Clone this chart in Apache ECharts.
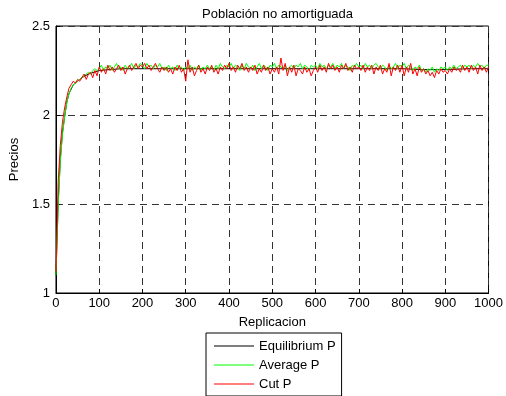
<!DOCTYPE html>
<html>
<head>
<meta charset="utf-8">
<script src="https://cdn.jsdelivr.net/npm/echarts@6/dist/echarts.min.js"></script>
<style>
  html, body { margin: 0; padding: 0; background: #fff; }
  #main { width: 506px; height: 396px; }
</style>
</head>
<body>
<div id="main"></div>
<script>
// cut / average sampled every 5 replications
const step = 5;

const cutP = [
  1.12, 1.62, 1.83, 1.96, 2.04, 2.10, 2.15, 2.17, 2.19, 2.18,
  2.20, 2.19, 2.21, 2.23, 2.20, 2.23, 2.24, 2.21, 2.25, 2.22,
  2.27, 2.24, 2.26, 2.23, 2.28, 2.25, 2.27, 2.24, 2.26, 2.28,
  2.25, 2.27, 2.23, 2.26, 2.28, 2.25, 2.27, 2.29, 2.26, 2.28,
  2.27, 2.29, 2.26, 2.28, 2.25, 2.27, 2.29, 2.26, 2.24, 2.27,
  2.25, 2.27, 2.24, 2.26, 2.23, 2.27, 2.25, 2.28, 2.24, 2.26,
  2.19, 2.31, 2.24, 2.27, 2.22, 2.25, 2.28, 2.24, 2.26, 2.23,
  2.27, 2.25, 2.28, 2.24, 2.26, 2.23, 2.27, 2.25, 2.28, 2.26,
  2.29, 2.25, 2.27, 2.24, 2.28, 2.26, 2.29, 2.25, 2.27, 2.24,
  2.27, 2.25, 2.28, 2.23, 2.26, 2.24, 2.28, 2.25, 2.27, 2.23,
  2.26, 2.24, 2.27, 2.23, 2.32, 2.25, 2.29, 2.22, 2.27, 2.24,
  2.28, 2.22, 2.26, 2.25, 2.23, 2.27, 2.24, 2.26, 2.22, 2.25,
  2.27, 2.24, 2.28, 2.25, 2.27, 2.24, 2.29, 2.26, 2.28, 2.25,
  2.27, 2.24, 2.28, 2.26, 2.29, 2.25, 2.27, 2.24, 2.28, 2.26,
  2.27, 2.25, 2.28, 2.24, 2.27, 2.25, 2.28, 2.23, 2.27, 2.25,
  2.28, 2.23, 2.26, 2.24, 2.29, 2.22, 2.27, 2.25, 2.28, 2.24,
  2.28, 2.22, 2.27, 2.24, 2.29, 2.23, 2.26, 2.22, 2.27, 2.24,
  2.26, 2.23, 2.25, 2.22, 2.24, 2.21, 2.25, 2.23, 2.26, 2.24,
  2.25, 2.23, 2.26, 2.24, 2.27, 2.25, 2.26, 2.24, 2.28, 2.25,
  2.27, 2.24, 2.28, 2.25, 2.27, 2.23, 2.28, 2.25, 2.27, 2.24,
  2.27
];

const averageP = [
  1.10, 1.48, 1.74, 1.89, 1.99, 2.07, 2.12, 2.15, 2.17, 2.18,
  2.19, 2.20, 2.21, 2.22, 2.23, 2.24, 2.23, 2.25, 2.26, 2.25,
  2.26, 2.28, 2.25, 2.27, 2.26, 2.28, 2.25, 2.27, 2.29, 2.26,
  2.27, 2.25, 2.28, 2.26, 2.27, 2.29, 2.26, 2.28, 2.27, 2.29,
  2.28, 2.26, 2.29, 2.27, 2.28, 2.26, 2.28, 2.27, 2.29, 2.26,
  2.27, 2.25, 2.28, 2.26, 2.27, 2.25, 2.28, 2.26, 2.27, 2.25,
  2.27, 2.26, 2.28, 2.25, 2.27, 2.26, 2.28, 2.25, 2.27, 2.26,
  2.28, 2.26, 2.27, 2.25, 2.28, 2.26, 2.29, 2.27, 2.26, 2.28,
  2.27, 2.29, 2.26, 2.28, 2.27, 2.25, 2.28, 2.26, 2.29, 2.27,
  2.26, 2.28, 2.25, 2.27, 2.29, 2.26, 2.28, 2.27, 2.25, 2.28,
  2.27, 2.29, 2.26, 2.28, 2.27, 2.26, 2.28, 2.25, 2.27, 2.28,
  2.26, 2.28, 2.27, 2.29, 2.26, 2.28, 2.27, 2.25, 2.28, 2.27,
  2.28, 2.26, 2.29, 2.27, 2.28, 2.26, 2.28, 2.27, 2.29, 2.26,
  2.28, 2.27, 2.29, 2.26, 2.28, 2.27, 2.25, 2.28, 2.27, 2.29,
  2.27, 2.28, 2.26, 2.29, 2.27, 2.28, 2.26, 2.28, 2.29, 2.27,
  2.26, 2.28, 2.27, 2.25, 2.28, 2.26, 2.27, 2.29, 2.26, 2.28,
  2.27, 2.29, 2.26, 2.28, 2.27, 2.25, 2.27, 2.26, 2.28, 2.25,
  2.26, 2.24, 2.26, 2.25, 2.27, 2.24, 2.26, 2.25, 2.27, 2.26,
  2.27, 2.25, 2.27, 2.26, 2.28, 2.26, 2.27, 2.28, 2.26, 2.28,
  2.27, 2.28, 2.26, 2.28, 2.27, 2.29, 2.27, 2.28, 2.26, 2.28,
  2.28
];

// equilibrium price (mostly hidden under the other two)
const eqReps = [0, 5, 10, 15, 20, 25, 30, 40, 50, 60, 75, 100, 150, 200, 250, 300, 350, 400, 450, 500, 550, 600, 650, 700, 750, 800, 850, 900, 950, 1000];
const equilibriumP = [
  1.10, 1.50, 1.75, 1.90, 1.99, 2.07, 2.12, 2.17, 2.19, 2.21, 2.23, 2.25, 2.26, 2.26, 2.26,
  2.26, 2.26, 2.26, 2.26, 2.26, 2.26, 2.26, 2.26, 2.26, 2.26, 2.26, 2.255, 2.255, 2.26, 2.26
];

const yTicks = [1, 1.5, 2, 2.5];

const toPairs = (arr, s) => arr.map((v, i) => [i * s, v]);

var chartDom = document.getElementById('main');
var myChart = echarts.init(chartDom);
var font = 'Liberation Sans, Arial, sans-serif';

var option = {
  backgroundColor: '#fff',
  animation: false,
  textStyle: { fontFamily: font },
  title: {
    text: 'Población no amortiguada',
    left: 197,
    top: 3,
    textStyle: { fontSize: 13, fontWeight: 'normal', color: '#000', fontFamily: font }
  },
  grid: {
    left: 55,
    right: 13,
    top: 26,
    bottom: 103,
    show: true,
    borderColor: '#000',
    borderWidth: 1,
    backgroundColor: '#fff'
  },
  legend: {
    orient: 'vertical',
    left: 206,
    top: 333,
    padding: [6, 6, 5, 8],
    itemGap: 5,
    itemWidth: 40,
    itemHeight: 1,
    icon: 'rect',
    borderColor: '#000',
    borderWidth: 1,
    backgroundColor: '#fff',
    textStyle: { fontSize: 13, color: '#000', fontFamily: font, lineHeight: 14 },
    data: ['Equilibrium P', 'Average P', 'Cut P']
  },
  xAxis: {
    type: 'value',
    min: 0,
    max: 1000,
    interval: 100,
    name: 'Replicacion',
    nameLocation: 'middle',
    nameGap: 23,
    nameTextStyle: { fontSize: 13, color: '#000' },
    axisLine: { lineStyle: { color: '#000' } },
    axisTick: { inside: true, length: 4, lineStyle: { color: '#000' } },
    axisLabel: { fontSize: 13, color: '#000', margin: 4, formatter: v => String(v) },
    splitLine: { show: true, lineStyle: { color: '#333', type: [7, 5], width: 1 } }
  },
  yAxis: {
    type: 'value',
    min: yTicks[0],
    max: yTicks[yTicks.length - 1],
    interval: 0.5,
    name: 'Precios',
    nameLocation: 'middle',
    nameGap: 32,
    nameTextStyle: { fontSize: 13, color: '#000' },
    axisLine: { show: true, lineStyle: { color: '#000' } },
    axisTick: { show: true, inside: true, length: 4, lineStyle: { color: '#000' } },
    axisLabel: { fontSize: 13, color: '#000', margin: 6, formatter: v => String(v) },
    splitLine: { show: true, lineStyle: { color: '#333', type: [7, 5], width: 1 } }
  },
  series: [
    {
      name: 'Equilibrium P',
      type: 'line',
      symbol: 'none',
      color: '#000',
      lineStyle: { width: 1, color: '#000' },
      data: eqReps.map((r, i) => [r, equilibriumP[i]])
    },
    {
      name: 'Average P',
      type: 'line',
      symbol: 'none',
      color: '#00ff00',
      lineStyle: { width: 1, color: '#00ff00' },
      data: toPairs(averageP, step)
    },
    {
      name: 'Cut P',
      type: 'line',
      symbol: 'none',
      color: '#ff0000',
      lineStyle: { width: 1, color: '#ff0000' },
      data: toPairs(cutP, step)
    }
  ]
};

option && myChart.setOption(option);
</script>
</body>
</html>
